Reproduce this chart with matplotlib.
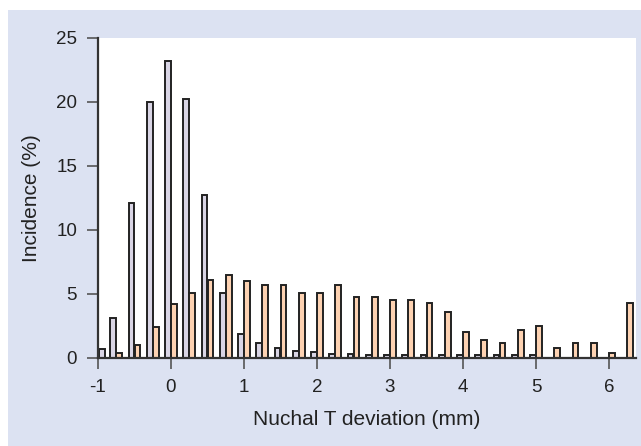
import numpy as np
import matplotlib
matplotlib.use("Agg")
import matplotlib.pyplot as plt
from matplotlib.patches import Rectangle

plt.rcParams['font.family'] = ['Liberation Sans', 'DejaVu Sans']

# bin centres of nuchal T deviation (mm), 0.25 mm steps
deviation = np.arange(-1, 6.26, 0.25)
deviation[0] = -0.9  # first bin is drawn just inside the axis
# incidence (%) for the two groups
normal = [0.7, 3.1, 12.1, 20.0, 23.2, 20.2, 12.7, 5.1, 1.9, 1.2, 0.8, 0.55, 0.45, 0.35,
          0.3, 0.25, 0.2, 0.25, 0.25, 0.25, 0.25, 0.25, 0.25, 0.25, 0.25, 0, 0, 0, 0, 0]
abnormal = [0, 0.4, 1.0, 2.4, 4.2, 5.1, 6.1, 6.5, 6.0, 5.7, 5.7, 5.1, 5.1, 5.7,
            4.8, 4.8, 4.5, 4.5, 4.3, 3.6, 2.0, 1.4, 1.2, 2.2, 2.5, 0.8, 1.2, 1.2, 0.4, 4.3]
xticks = [-1, 0, 1, 2, 3, 4, 5, 6]
yticks = [0, 5, 10, 15, 20, 25]

bg = '#dce2f2'
fig = plt.figure(figsize=(6.41, 4.46), dpi=100)
fig.patches.append(Rectangle((8 / 641, 0), 1, 1 - 10 / 446, transform=fig.transFigure,
                             facecolor=bg, edgecolor='none', zorder=-10))
ax = fig.add_axes([98 / 641, 1 - 358 / 446, (636 - 98) / 641, (358 - 38) / 446])

w = 0.078
ax.bar(deviation - 0.042, normal, w, color='#d9d5e5', edgecolor='#222222', linewidth=1.4)
ax.bar(deviation + 0.042, abnormal, w, color='#fdd2b2', edgecolor='#222222', linewidth=1.4)

ax.set_xlim(-1, 6.37)
ax.set_ylim(0, 25)
ax.set_xticks(xticks)
ax.set_xticklabels([str(t) for t in xticks])
ax.set_yticks(yticks)
for s in ['top', 'right']:
    ax.spines[s].set_visible(False)
for s in ['left', 'bottom']:
    ax.spines[s].set_color('#333333')
    ax.spines[s].set_linewidth(1.6)
ax.tick_params(direction='out', length=8, width=1.2, color='#555555',
               labelsize=13.5, labelcolor='#222222', pad=7)
ax.set_xlabel('Nuchal T deviation (mm)', fontsize=15, color='#222222', labelpad=10)
ax.set_ylabel('Incidence (%)', fontsize=15, color='#222222', labelpad=11)

fig.savefig('out.png', dpi=100)
